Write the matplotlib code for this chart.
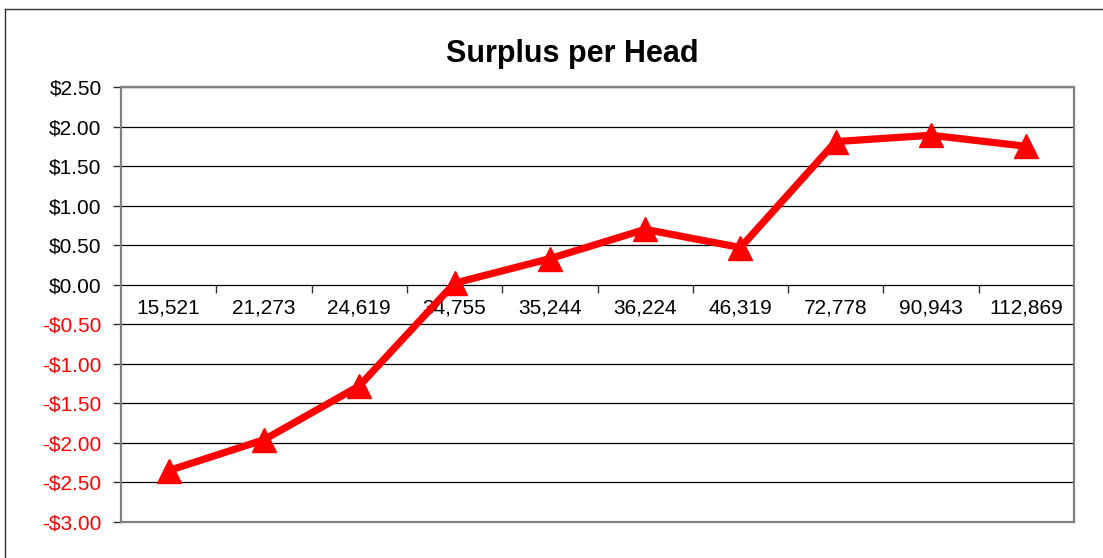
import numpy as np
import matplotlib.pyplot as plt
from matplotlib.ticker import FixedLocator, NullFormatter, FixedFormatter

# values
categories = ['15,521', '21,273', '24,619', '34,755', '35,244',
              '36,224', '46,319', '72,778', '90,943', '112,869']
surplus = [-2.35, -1.96, -1.28, 0.02, 0.33, 0.70, 0.47, 1.81, 1.89, 1.75]
yticks = [-3.0, -2.5, -2.0, -1.5, -1.0, -0.5, 0.0, 0.5, 1.0, 1.5, 2.0, 2.5]

plt.rcParams["font.family"] = ["Liberation Sans", "DejaVu Sans"]

W, H = 1103, 558
fig = plt.figure(figsize=(W / 100, H / 100), dpi=100)

# outer chart border (left and top visible in the picture)
fig.add_artist(plt.Line2D([5 / W, 5 / W], [0, 1 - 9 / H], color='#303030', lw=1.0,
                          transform=fig.transFigure))
fig.add_artist(plt.Line2D([5 / W, 1], [1 - 9 / H, 1 - 9 / H], color='#303030', lw=1.0,
                          transform=fig.transFigure))

ax = fig.add_axes([121 / W, 1 - 522 / H, (1074 - 121) / W, (522 - 87) / H])

x = np.arange(len(categories))
ax.set_xlim(-0.5, len(categories) - 0.5)
ax.set_ylim(-3.0, 2.5)

# horizontal gridlines
ax.set_yticks(yticks)
ax.yaxis.grid(True, color='black', lw=0.9)
ax.set_axisbelow(True)

for s in ax.spines.values():
    s.set_color('#808080')
    s.set_linewidth(1.6)

ax.tick_params(axis='y', length=6, width=1, color='#303030', pad=8, labelsize=15)
labels = []
for v in yticks:
    if v < 0:
        labels.append('-${:.2f}'.format(-v))
    else:
        labels.append('${:.2f}'.format(v))
ax.set_yticklabels(labels)
for lab, v in zip(ax.get_yticklabels(), yticks):
    lab.set_color('red' if v < 0 else 'black')

# no ticks on the bottom frame; the category axis sits at zero
ax.set_xticks([])

zero = ax.secondary_xaxis(3.0 / 5.5)
zero.xaxis.set_ticks_position('bottom')
zero.spines['bottom'].set_color('#808080')
zero.spines['bottom'].set_linewidth(1.8)
zero.spines['top'].set_visible(False)
zero.xaxis.set_major_locator(FixedLocator(np.arange(0.5, len(categories) - 0.5, 1.0)))
zero.xaxis.set_major_formatter(NullFormatter())
zero.xaxis.set_minor_locator(FixedLocator(x))
zero.xaxis.set_minor_formatter(FixedFormatter(categories))
zero.tick_params(axis='x', which='major', direction='out', length=6, width=1, color='#303030')
zero.tick_params(axis='x', which='minor', length=0, pad=10, labelsize=15)

ax.plot(x, surplus, color='red', lw=5.2, marker='^', markersize=17,
        markerfacecolor='red', markeredgecolor='red', solid_joinstyle='miter', zorder=5,
        clip_on=False)

fig.text(572 / W, 1 - 62 / H, 'Surplus per Head', ha='center', va='baseline',
         fontsize=22, fontweight='bold')

fig.savefig('out.png', dpi=100)
